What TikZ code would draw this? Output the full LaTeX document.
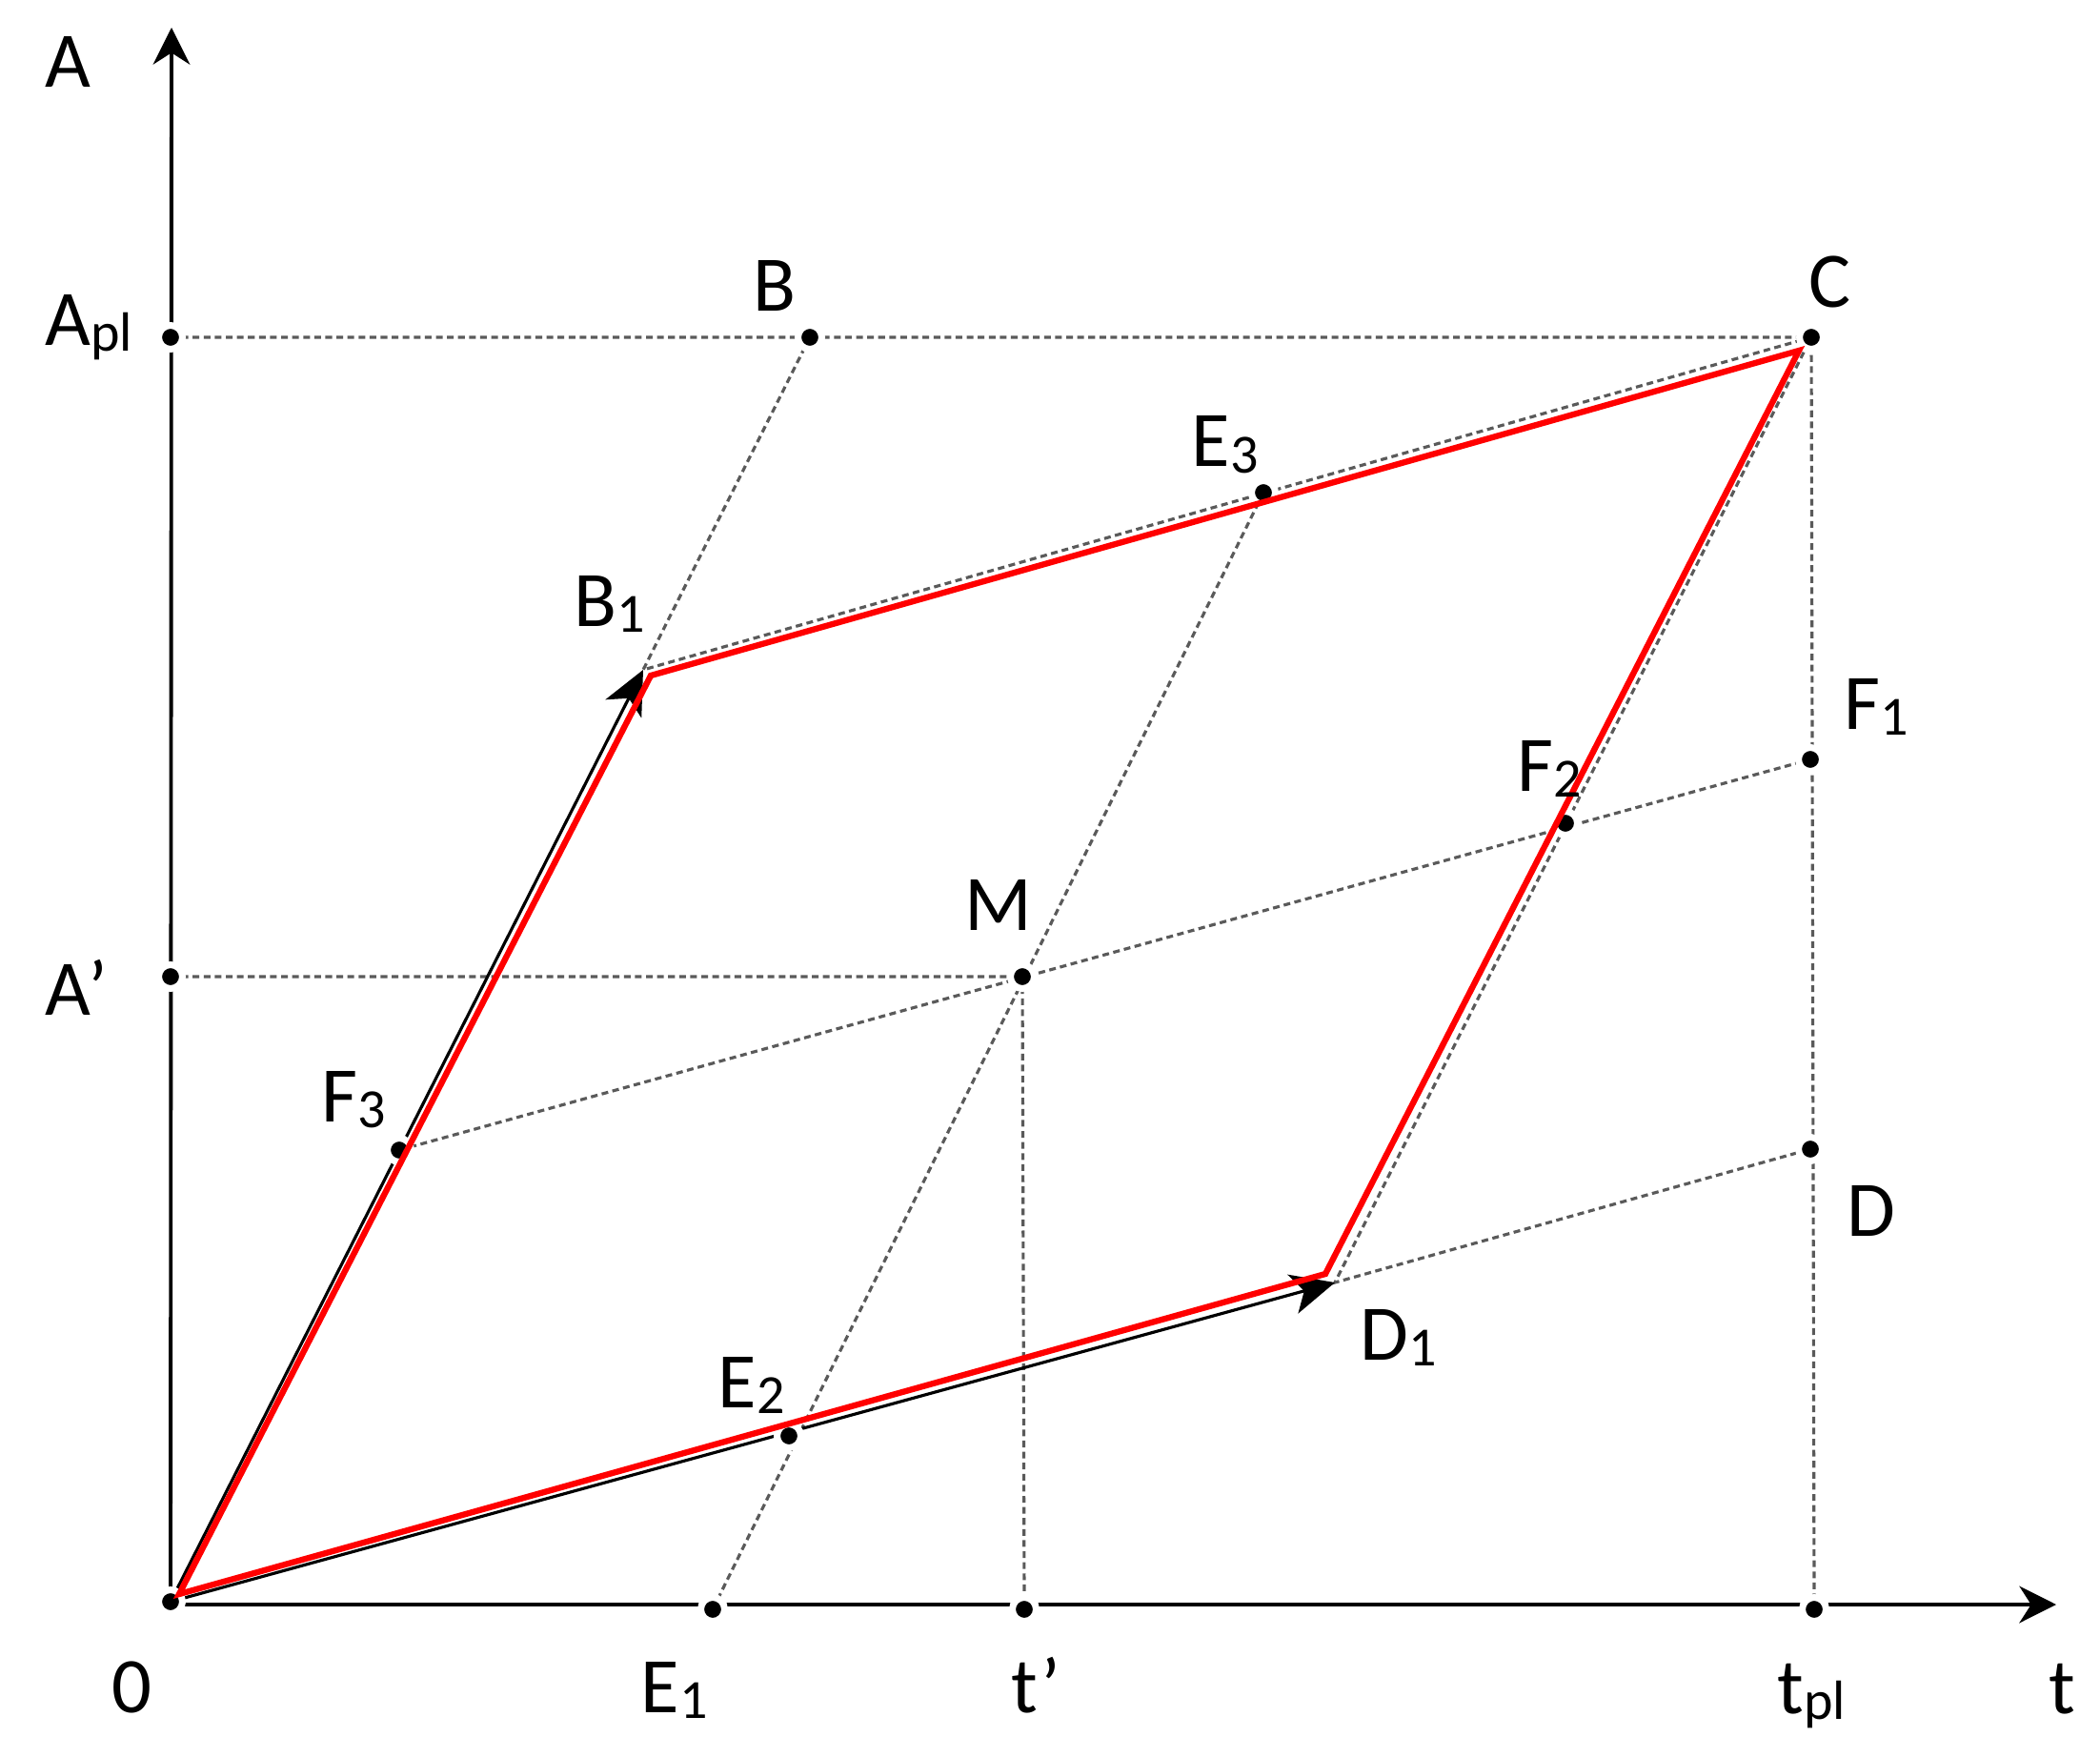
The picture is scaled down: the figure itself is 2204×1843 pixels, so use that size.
\documentclass[tikz,border=0pt]{standalone}
\usepackage{fontspec}
\setmainfont{Carlito}
\usepackage{xcolor}
\usepackage{tikz}
\usetikzlibrary{arrows.meta}
\definecolor{dashgray}{RGB}{90,90,90}
\definecolor{pathred}{RGB}{255,0,0}
\newcommand{\lowidx}[1]{\raisebox{-0.06cm}{\fontsize{16.5}{18}\selectfont #1}}
\tikzset{
    Vertex/.style = {circle,fill=black,draw=white,line width=0.07cm,inner sep=0pt,minimum size=0.25cm},
    Lbl/.style = {anchor=base west,inner sep=0pt,font=\fontsize{23.5}{28}\selectfont},
    Helper/.style = {dashgray,line width=0.9pt,dash pattern=on 2pt off 1.3pt},
    AxisLine/.style = {line width=1.1pt,-{Stealth[length=11pt,width=11pt,inset=3.5pt]}},
    Vec/.style = {line width=0.9pt,-{Stealth[length=13pt,width=12pt,inset=3.5pt]}},
    CyclePath/.style = {pathred,line width=1.8pt,line join=miter}
}
\begin{document}
\begin{tikzpicture}[x=0.01cm,y=-0.01cm]
        \useasboundingbox (0,0) rectangle (2204,1843);
        % points of the construction
        \foreach \n/\x/\y in {O/179/1681, Apl/179/354, Ap/179/1025, B/850/354, C/1901/354,
                E3/1326/517, F1/1900/797, F2/1643/864, M/1073/1025, F3/419/1207,
                D/1900/1206, E2/828/1507, E1/748/1689, tp/1075/1689, tpl/1904/1689}
            {\coordinate (\n) at (\x,\y);}
        \coordinate (B1) at (675,703);
        \coordinate (D1) at (1401,1346);
        \coordinate (yend) at (180,29);
        \coordinate (xend) at (2158,1684);
        % red path corners
        \coordinate (R0) at (188,1673);
        \coordinate (R1) at (683,709);
        \coordinate (R2) at (1888,368);
        \coordinate (R3) at (1391,1337);
        % axes
        \draw[AxisLine] (O) -- (yend);
        \draw[AxisLine] (O |- xend) -- (xend);
        % dashed construction
        \draw[Helper] (Apl) -- (C) -- (tpl);
        \draw[Helper] (B) -- (B1) -- (C) -- (D1) -- (D);
        \draw[Helper] (E3) -- (E1);
        \draw[Helper] (F3) -- (F1);
        \draw[Helper] (Ap) -- (M) -- (tp);
        % vectors
        \draw[Vec] (O) -- (B1);
        \draw[Vec] (O) -- (D1);
        % dots
        \foreach \n in {O,Apl,Ap,B,C,E3,F1,F2,M,F3,D,E2,E1,tp,tpl}
            {\node[Vertex] (\n-dot) at (\n) {};}
        \draw[CyclePath] (R0) -- (R1) -- (R2) -- (R3) -- cycle;
        % labels
        \node[Lbl] (lA) at (47,92) {A};
        \node[Lbl] (lApl) at (47,363) {A\lowidx{pl}};
        \node[Lbl] (lAp) at (47,1065) {A’};
        \node[Lbl] (lB) at (790,327) {B};
        \node[Lbl] (lC) at (1898,323) {C};
        \node[Lbl] (lE3) at (1250,490) {E\lowidx{3}};
        \node[Lbl] (lB1) at (602,657) {B\lowidx{1}};
        \node[Lbl] (lF1) at (1935,765) {F\lowidx{1}};
        \node[Lbl] (lF2) at (1592,830) {F\lowidx{2}};
        \node[Lbl] (lM) at (1012,976) {M};
        \node[Lbl] (lF3) at (337,1177) {F\lowidx{3}};
        \node[Lbl] (lD) at (1938,1297) {D};
        \node[Lbl] (lD1) at (1427,1427) {D\lowidx{1}};
        \node[Lbl] (lE2) at (753,1477) {E\lowidx{2}};
        \node[Lbl] (l0) at (117,1797) {0};
        \node[Lbl] (lE1) at (672,1797) {E\lowidx{1}};
        \node[Lbl] (ltp) at (1061,1797) {t’};
        \node[Lbl] (ltpl) at (1865,1798) {t\lowidx{pl}};
        \node[Lbl] (lt) at (2150,1798) {t};
        \end{tikzpicture}
\end{document}
